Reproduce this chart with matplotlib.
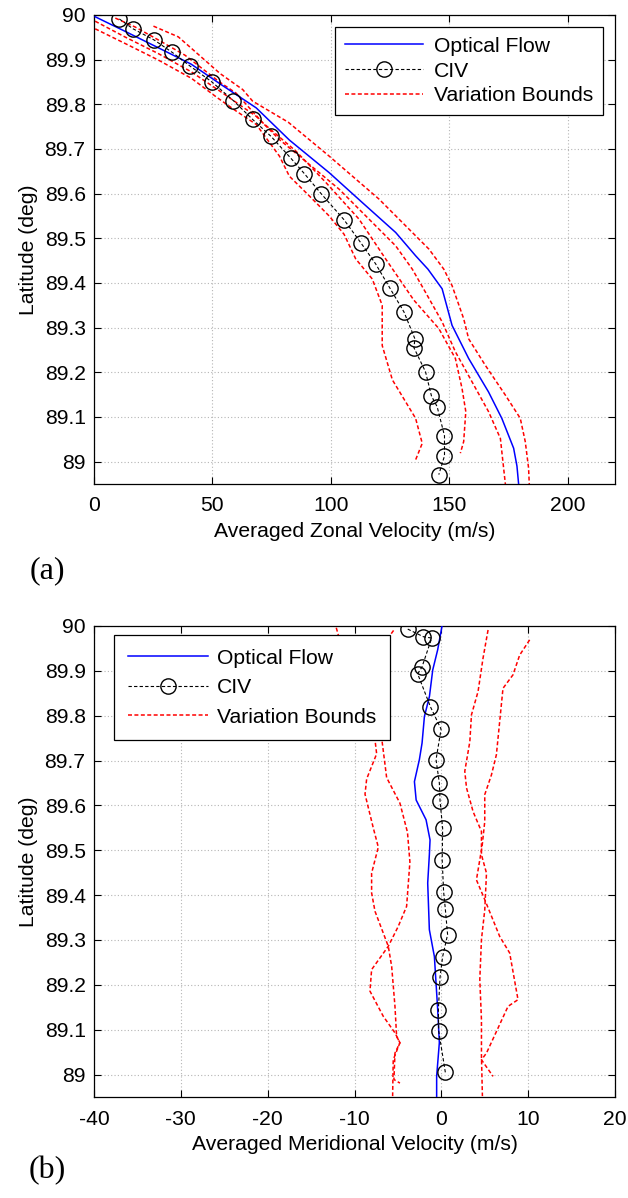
import matplotlib
matplotlib.use("Agg")
import matplotlib.pyplot as plt

plt.rcParams['font.family'] = ['Liberation Sans', 'DejaVu Sans']
plt.rcParams['axes.unicode_minus'] = False

# ---------- (a) averaged zonal velocity ----------
zon_of_u = [0.5, 12.5, 27, 41, 54, 68.5, 82.5, 99.3, 113.3, 127.4, 135.8, 141, 147,
            151.2, 158.2, 166.6, 172.2, 177.2, 178.6, 179.3]
zon_of_lat = [89.996, 89.965, 89.927, 89.89, 89.843, 89.792, 89.72, 89.647, 89.58, 89.513,
              89.461, 89.431, 89.387, 89.305, 89.231, 89.156, 89.097, 89.03, 88.99, 88.95]

zon_civ_u = [10.7, 16.5, 25.4, 33.1, 40.7, 49.8, 58.9, 67.0, 74.8, 83.0, 88.8, 95.9, 105.5,
             112.8, 118.9, 125.0, 130.9, 135.5, 135.1, 140.0, 142.5, 144.9, 148.0, 148.0, 145.6]
zon_civ_lat = [89.991, 89.969, 89.944, 89.916, 89.885, 89.850, 89.808, 89.766, 89.728, 89.680,
               89.645, 89.600, 89.542, 89.489, 89.443, 89.388, 89.335, 89.275, 89.255, 89.201,
               89.147, 89.123, 89.058, 89.013, 88.971]

# variation bounds (optical flow upper/lower, CIV upper/lower)
zon_of_hi_u = [25.1, 35.6, 41.2, 53.2, 62.8, 67.0, 82.0, 99.3, 120.3, 141.4, 147.7, 151.2,
               156.1, 158.2, 165.2, 173.7, 180.0, 182.1, 183.5, 183.8]
zon_of_hi_lat = [89.975, 89.951, 89.925, 89.869, 89.833, 89.807, 89.760, 89.684, 89.588, 89.476,
                 89.431, 89.394, 89.320, 89.275, 89.216, 89.149, 89.097, 89.045, 88.986, 88.95]
zon_of_lo_u = [0.5, 13, 27, 41, 54.4, 68.5, 78.3, 103.5, 127.4, 134.4, 140, 147, 152.6,
               159.6, 166.6, 171.6, 173.7]
zon_of_lo_lat = [89.986, 89.951, 89.914, 89.873, 89.825, 89.773, 89.721, 89.61, 89.483, 89.431,
                 89.379, 89.313, 89.246, 89.179, 89.112, 89.052, 88.95]
zon_civ_hi_u = [9.0, 17.4, 27.2, 38.4, 53.0, 60.0, 71.2, 85.3, 97.9, 111.9, 123.0, 135.0,
                145.6, 152.6, 155.4, 157.0, 156.1, 154.7]
zon_civ_hi_lat = [89.993, 89.973, 89.944, 89.910, 89.850, 89.825, 89.759, 89.695, 89.625, 89.543,
                  89.455, 89.362, 89.298, 89.231, 89.164, 89.112, 89.045, 89.019]
zon_civ_lo_u = [0.5, 13.2, 27.2, 41.2, 52.0, 60.0, 68.5, 78.3, 82.5, 90.9, 99.3, 105.6, 110.5,
                117.5, 121.7, 121.7, 126.0, 135.8, 138.6, 135.8]
zon_civ_lo_lat = [89.969, 89.936, 89.899, 89.858, 89.815, 89.785, 89.755, 89.684, 89.639, 89.595,
                  89.550, 89.509, 89.454, 89.409, 89.350, 89.260, 89.183, 89.097, 89.041, 89.004]

# ---------- (b) averaged meridional velocity ----------
mer_of_v = [0.08, -0.42, -0.99, -1.37, -1.95, -2.22, -2.53, -3.1, -2.9, -1.76, -1.3, -1.38,
            -1.57, -1.38, -0.8, -0.61, -0.42, -0.23, -0.54, -0.54]
mer_of_lat = [90.0, 89.947, 89.902, 89.843, 89.798, 89.739, 89.702, 89.653, 89.612, 89.568,
              89.523, 89.49, 89.427, 89.323, 89.263, 89.204, 89.145, 89.071, 88.996, 88.95]

mer_civ_v = [-3.87, -2.07, -1.11, -2.22, -2.72, -1.26, -0.03, -0.61, -0.23, -0.15, 0.15, 0.1,
             0.26, 0.46, 0.72, 0.15, -0.15, -0.34, -0.31, 0.46]
mer_civ_lat = [89.993, 89.976, 89.973, 89.909, 89.893, 89.82, 89.77, 89.702, 89.65, 89.61,
               89.549, 89.478, 89.408, 89.369, 89.312, 89.263, 89.217, 89.145, 89.098, 89.005]

mer_b1_v = [-12.1, -10.0, -7.64, -7.45, -8.6, -8.79, -7.84, -7.26, -8.03, -8.03, -7.64, -6.11,
            -5.72, -5.34, -5.15, -4.77, -5.54, -5.61]
mer_b1_lat = [89.996, 89.85, 89.746, 89.715, 89.659, 89.625, 89.55, 89.507, 89.449, 89.405,
              89.364, 89.286, 89.241, 89.152, 89.085, 89.071, 89.033, 88.952]
mer_b2_v = [-5.5, -7.0, -6.87, -6.3, -4.77, -3.9, -3.62, -4.0, -4.97, -6.11, -8.03, -8.22,
            -6.69, -5.34, -4.77, -5.34, -5.46, -4.77]
mer_b2_lat = [89.99, 89.95, 89.75, 89.662, 89.605, 89.54, 89.474, 89.375, 89.33, 89.286,
              89.234, 89.186, 89.13, 89.093, 89.071, 89.048, 88.989, 88.981]
mer_b3_v = [5.38, 4.8, 4.23, 3.47, 3.28, 2.7, 2.9, 3.66, 4.62, 4.62, 5.2, 5.0, 4.62, 4.43,
            4.62, 4.62, 4.73]
mer_b3_lat = [89.991, 89.928, 89.854, 89.802, 89.742, 89.676, 89.639, 89.586, 89.542, 89.49,
              89.449, 89.367, 89.301, 89.212, 89.122, 89.041, 88.952]
mer_b4_v = [10.17, 9.02, 8.25, 7.1, 6.72, 6.34, 5.77, 5.0, 5.0, 4.7, 4.04, 5.0, 6.72, 7.87,
            8.83, 7.68, 5.2, 4.62, 5.96]
mer_b4_lat = [89.969, 89.935, 89.891, 89.861, 89.787, 89.713, 89.668, 89.624, 89.564, 89.51,
              89.434, 89.39, 89.308, 89.271, 89.167, 89.152, 89.048, 89.033, 88.996]

lat_ticks = [89, 89.1, 89.2, 89.3, 89.4, 89.5, 89.6, 89.7, 89.8, 89.9, 90]
lat_ticklabels = ['89', '89.1', '89.2', '89.3', '89.4', '89.5', '89.6', '89.7', '89.8', '89.9', '90']

FS = 15.2
RED_DASH = (2.6, 1.6)


def style_axis(ax, xlim, xticks, xlabel):
    ax.set_xlim(*xlim)
    ax.set_ylim(88.95, 90)
    ax.set_xticks(xticks)
    ax.set_yticks(lat_ticks)
    ax.set_yticklabels(lat_ticklabels)
    ax.grid(True, linestyle=(0, (1, 2)), color='#b5b5b5', linewidth=0.8)
    ax.set_axisbelow(True)
    ax.tick_params(direction='in', top=True, right=True, length=5, width=0.8,
                   labelsize=FS)
    ax.tick_params(axis='x', pad=9)
    ax.tick_params(axis='y', pad=6)
    for sp in ax.spines.values():
        sp.set_linewidth(0.9)
    ax.set_xlabel(xlabel, fontsize=FS, labelpad=5)
    ax.set_ylabel('Latitude (deg)', fontsize=FS, labelpad=5)


def draw_panel(ax, of_x, of_y, civ_x, civ_y, bounds):
    ax.plot(of_x, of_y, color='#0000ff', linewidth=1.1, label='Optical Flow', zorder=3)
    ax.plot(civ_x, civ_y, color='black', linewidth=0.8, linestyle=(0, (3, 2)),
            marker='o', markersize=11, markerfacecolor='none', markeredgecolor='black',
            markeredgewidth=1.0, label='CIV', zorder=4)
    for i, (bx, by) in enumerate(bounds):
        ax.plot(bx, by, color='red', linewidth=1.1, linestyle=(0, RED_DASH),
                label='Variation Bounds' if i == 0 else None, zorder=2)


fig = plt.figure(figsize=(6.28, 11.98), dpi=100)

ax1 = fig.add_axes([0.1497, 0.5960, 0.8296, 0.3915])
draw_panel(ax1, zon_of_u, zon_of_lat, zon_civ_u, zon_civ_lat,
           [(zon_of_hi_u, zon_of_hi_lat), (zon_of_lo_u, zon_of_lo_lat),
            (zon_civ_hi_u, zon_civ_hi_lat), (zon_civ_lo_u, zon_civ_lo_lat)])
style_axis(ax1, (0, 220), [0, 50, 100, 150, 200], 'Averaged Zonal Velocity (m/s)')
leg1 = ax1.legend(loc='upper right', bbox_to_anchor=(0.977, 0.974), fontsize=FS,
                  fancybox=False, edgecolor='black', framealpha=1, handlelength=3.7,
                  handletextpad=0.55, labelspacing=0.28, borderpad=0.45, borderaxespad=0)
leg1.get_frame().set_linewidth(0.9)

ax2 = fig.add_axes([0.1497, 0.0843, 0.8296, 0.3932])
draw_panel(ax2, mer_of_v, mer_of_lat, mer_civ_v, mer_civ_lat,
           [(mer_b1_v, mer_b1_lat), (mer_b2_v, mer_b2_lat),
            (mer_b3_v, mer_b3_lat), (mer_b4_v, mer_b4_lat)])
style_axis(ax2, (-40, 20), [-40, -30, -20, -10, 0, 10, 20], 'Averaged Meridional Velocity (m/s)')
leg2 = ax2.legend(loc='upper left', bbox_to_anchor=(0.038, 0.981), fontsize=FS,
                  fancybox=False, edgecolor='black', framealpha=1, handlelength=3.8,
                  handletextpad=0.45, labelspacing=0.5, borderpad=0.65, borderaxespad=0)
leg2.get_frame().set_linewidth(0.9)

fig.text(47 / 628, 1 - 571 / 1198, '(a)', family='Liberation Serif', fontsize=23,
         ha='center', va='center')
fig.text(47 / 628, 1 - 1171 / 1198, '(b)', family='Liberation Serif', fontsize=23,
         ha='center', va='center')

fig.savefig('out.png', dpi=100)
